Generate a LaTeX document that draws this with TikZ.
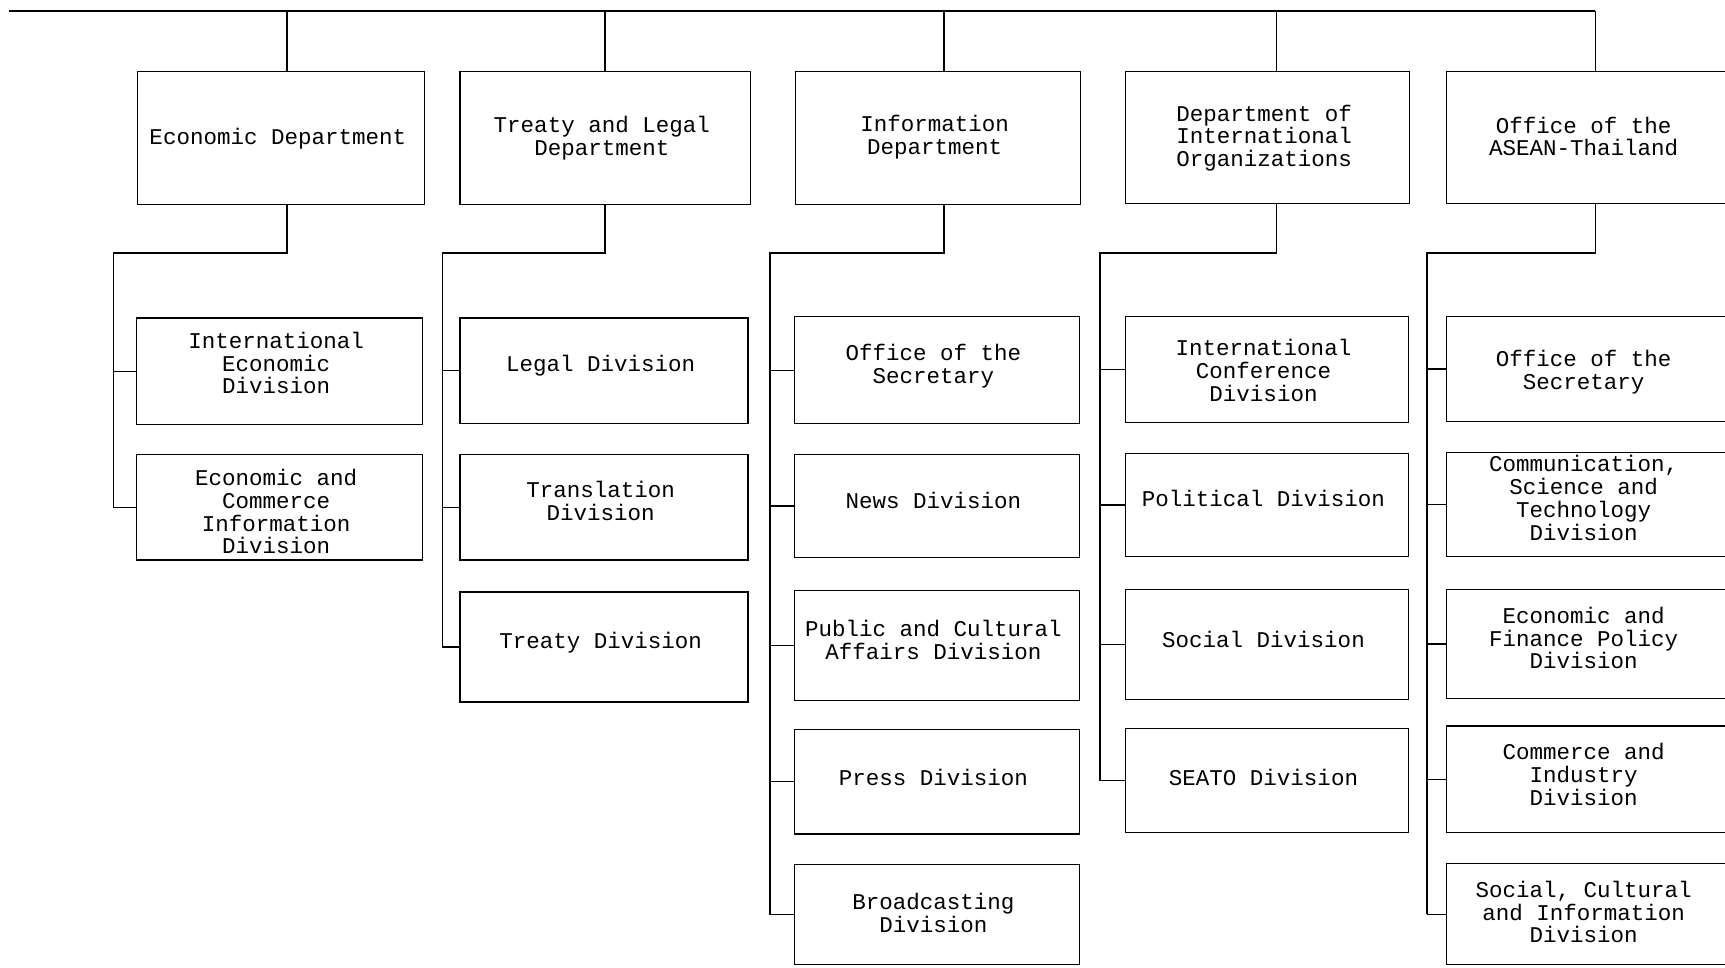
\documentclass[tikz,border=0pt]{standalone}
\usepackage{fontspec}
\newfontfamily\typewriter{Liberation Mono}
\usepackage{tikz}
\usetikzlibrary{fit, positioning}

\begin{document}
\begin{tikzpicture}[x=1.1pt, y=-1.1pt, line width=1.3pt,
    box/.style={draw, inner sep=0pt},
    txt/.style={align=center, xshift=-3.3pt, yshift=-#1*1.1pt,
        font=\typewriter\fontsize{22.5}{22.8}\selectfont},
    txt/.default=-5]
    \clip (0,0) rectangle (1568,879);

    % Departments
    \node[box, fit={(125,65) (386,186)}, label={[txt=1]center:Economic Department}] (econ) {};
    \node[box, fit={(418,65) (682,186)}, label={[txt=0]center:{Treaty and Legal\\Department}}] (treaty) {};
    \node[box, fit={(723,65) (982,186)}, label={[txt=-0.5]center:{Information\\Department}}] (info) {};
    \node[box, fit={(1023,65) (1281,185)}, label={[txt=0.5]center:{Department of\\International\\Organizations}}] (org) {};
    \node[box, fit={(1315,65) (1570,185)}, label={[txt=-1]center:{Office of the\\ASEAN-Thailand}}] (asean) {};

    % Economic Department divisions
    \node[box, fit={(124,289) (384,386)}, label={[txt=-7.5]center:{International\\Economic\\Division}}] (ecoD1) {};
    \node[box, fit={(124,413) (384,509)}, label={[txt=4]center:{Economic and\\Commerce\\Information\\Division}}] (ecoD2) {};

    % Treaty and Legal Department divisions
    \node[box, fit={(418,289) (680,385)}, label={[txt]center:Legal Division}] (treD1) {};
    \node[box, fit={(418,413) (680,509)}, label={[txt=-6]center:{Translation\\Division}}] (treD2) {};
    \node[box, fit={(418,538) (680,638)}, label={[txt=-4]center:Treaty Division}] (treD3) {};

    % Information Department divisions
    \node[box, fit={(722,288) (981,385)}, label={[txt=-4]center:{Office of the\\Secretary}}] (infD1) {};
    \node[box, fit={(722,413) (981,507)}, label={[txt]center:News Division}] (infD2) {};
    \node[box, fit={(722,537) (981,637)}, label={[txt]center:{Public and Cultural\\Affairs Division}}] (infD3) {};
    \node[box, fit={(722,663) (981,758)}, label={[txt=-4]center:Press Division}] (infD4) {};
    \node[box, fit={(722,786) (981,877)}, label={[txt=-1.5]center:{Broadcasting\\Division}}] (infD5) {};

    % Department of International Organizations divisions
    \node[box, fit={(1023,288) (1280,384)}, label={[txt=0.5]center:{International\\Conference\\Division}}] (orgD1) {};
    \node[box, fit={(1023,412) (1280,506)}, label={[txt=-6]center:Political Division}] (orgD2) {};
    \node[box, fit={(1023,536) (1280,636)}, label={[txt]center:Social Division}] (orgD3) {};
    \node[box, fit={(1023,662) (1280,757)}, label={[txt=-3]center:SEATO Division}] (orgD4) {};

    % Office of the ASEAN-Thailand divisions
    \node[box, fit={(1315,288) (1570,383)}, label={[txt=3]center:{Office of the\\Secretary}}] (aseD1) {};
    \node[box, fit={(1315,411) (1570,506)}, label={[txt=-6]center:{Communication,\\Science and\\Technology\\Division}}] (aseD2) {};
    \node[box, fit={(1315,536) (1570,635)}, label={[txt=-5.5]center:{Economic and\\Finance Policy\\Division}}] (aseD3) {};
    \node[box, fit={(1315,660) (1570,757)}, label={[txt=-4.5]center:{Commerce and\\Industry\\Division}}] (aseD4) {};
    \node[box, fit={(1315,785) (1570,877)}, label={[txt=-2]center:{Social, Cultural\\and Information\\Division}}] (aseD5) {};

    % Top line
    \coordinate (rootL) at (8,10);
    \coordinate (econ-top) at (261,10);
    \coordinate (treaty-top) at (550,10);
    \coordinate (info-top) at (858,10);
    \coordinate (org-top) at (1160,10);
    \coordinate (asean-top) at (1450,10);
    \draw (rootL) -- (asean-top);
    \foreach \d in {econ, treaty, info, org, asean} {
        \draw (\d-top) -- (\d-top |- \d.north);
    }

    % Bus lines
    \coordinate (econ-bus) at (103,230);
    \coordinate (treaty-bus) at (402,230);
    \coordinate (info-bus) at (700,230);
    \coordinate (org-bus) at (1000,230);
    \coordinate (asean-bus) at (1297,230);
    \foreach \b/\c in {econ/ecoD2, treaty/treD3, info/infD5, org/orgD4, asean/aseD5} {
        \draw (\b-top |- \b.south) |- (\b-bus) -- (\b-bus |- \c.west);
    }
    \foreach \b/\c in {econ/ecoD1, econ/ecoD2,
                       treaty/treD1, treaty/treD2, treaty/treD3,
                       info/infD1, info/infD2, info/infD3, info/infD4, info/infD5,
                       org/orgD1, org/orgD2, org/orgD3, org/orgD4,
                       asean/aseD1, asean/aseD2, asean/aseD3, asean/aseD4, asean/aseD5} {
        \draw (\b-bus |- \c.west) -- (\c.west);
    }
\end{tikzpicture}
\end{document}
